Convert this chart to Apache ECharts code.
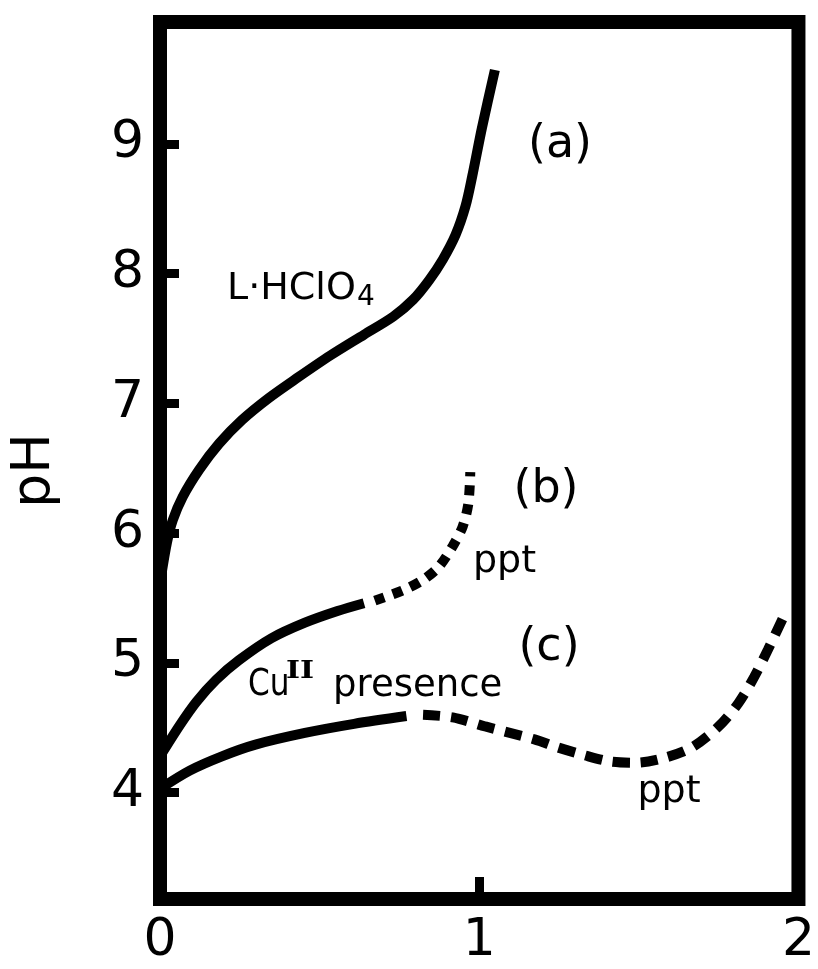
<!DOCTYPE html>
<html>
<head>
<meta charset="utf-8">
<script src="https://cdn.jsdelivr.net/npm/echarts@6/dist/echarts.min.js"></script>
<style>
  html, body { margin: 0; padding: 0; background: #fff; }
  #chart { width: 818px; height: 969px; }
</style>
</head>
<body>
<div id="chart"></div>
<script>
// ---- data ----
const xTickValues = [0, 1, 2];
const yTickValues = [4, 5, 6, 7, 8, 9];

// (a) L·HClO4 titration (solid)
const curveA = [
  [0.003, 5.66], [0.022, 5.93], [0.040, 6.10], [0.071, 6.28], [0.123, 6.49],
  [0.185, 6.69], [0.256, 6.87], [0.340, 7.04], [0.432, 7.20], [0.534, 7.37],
  [0.639, 7.53], [0.731, 7.67], [0.793, 7.80], [0.843, 7.95], [0.886, 8.11],
  [0.926, 8.30], [0.957, 8.52], [0.978, 8.75], [1.009, 9.13], [1.049, 9.57]
];
// (b) solid part
const curveBSolid = [
  [0.000, 4.28], [0.062, 4.52], [0.114, 4.70], [0.176, 4.87], [0.247, 5.02],
  [0.349, 5.19], [0.454, 5.31], [0.556, 5.40], [0.639, 5.46]
];
// (b) dashed part (ppt)
const curveBDashed = [
  [0.673, 5.48], [0.762, 5.56], [0.824, 5.64], [0.873, 5.74], [0.917, 5.90],
  [0.948, 6.05], [0.966, 6.23], [0.972, 6.47]
];
// (c) solid part (Cu(II) presence)
const curveCSolid = [
  [0.000, 4.03], [0.093, 4.17], [0.194, 4.28], [0.299, 4.37], [0.454, 4.46],
  [0.608, 4.53], [0.772, 4.59]
];
// (c) dashed part (ppt)
const curveCDashed = [
  [0.824, 4.60], [0.917, 4.58], [1.019, 4.51], [1.173, 4.41], [1.244, 4.35],
  [1.327, 4.29], [1.410, 4.24], [1.491, 4.23], [1.583, 4.27], [1.667, 4.35],
  [1.750, 4.51], [1.812, 4.69], [1.861, 4.89], [1.904, 5.10], [1.960, 5.39]
];

const FONT = '"DejaVu Sans", "Liberation Sans", sans-serif';
const chart = echarts.init(document.getElementById('chart'), null, { renderer: 'canvas' });

function txt(text, x, y, size, align, extra, fontFamily) {
  return Object.assign({
    type: 'text', x: x, y: y, z: 100,
    style: {
      text: text, x: 0, y: 0, fill: '#000',
      font: size + 'px ' + (fontFamily || FONT),
      align: align, textAlign: align,
      verticalAlign: 'middle', textVerticalAlign: 'middle'
    }
  }, extra || {});
}

const lineBase = { type: 'line', symbol: 'none', smooth: 0.3, clip: true, z: 5 };

chart.setOption({
  backgroundColor: '#fff',
  animation: false,
  grid: {
    left: 160, right: 10, top: 22, bottom: 70,
    show: true, borderWidth: 14, borderColor: '#000', backgroundColor: 'transparent'
  },
  xAxis: {
    type: 'value', min: 0, max: 2, interval: 1,
    axisLine: { show: false },
    splitLine: { show: false },
    axisTick: { show: true, inside: true, length: 22, lineStyle: { color: '#000', width: 9 } },
    axisLabel: { color: '#000', fontSize: 52, fontFamily: FONT, margin: 16 }
  },
  yAxis: {
    type: 'value', min: 3.18, max: 9.94,
    name: 'pH', nameLocation: 'middle', nameGap: 98,
    nameTextStyle: { color: '#000', fontSize: 54, fontFamily: FONT, padding: [0, 20, 0, 0] },
    axisLine: { show: false },
    splitLine: { show: false },
    axisTick: { show: true, inside: true, length: 19, customValues: yTickValues,
                lineStyle: { color: '#000', width: 9 } },
    axisLabel: { color: '#000', fontSize: 52, fontFamily: FONT, margin: 16, customValues: yTickValues }
  },
  series: [
    Object.assign({}, lineBase, { data: curveA, lineStyle: { color: '#000', width: 10 } }),
    Object.assign({}, lineBase, { data: curveBSolid, lineStyle: { color: '#000', width: 10 } }),
    Object.assign({}, lineBase, { data: curveBDashed, lineStyle: { color: '#000', width: 10, type: [10, 9], cap: 'butt' } }),
    Object.assign({}, lineBase, { data: curveCSolid, lineStyle: { color: '#000', width: 10 } }),
    Object.assign({}, lineBase, { data: curveCDashed, lineStyle: { color: '#000', width: 10, type: [17, 11], cap: 'butt' } })
  ],
  graphic: { elements: [
    txt('(a)', 560, 145, 46, 'center'),
    txt('(b)', 546, 490, 46, 'center'),
    txt('(c)', 549, 648, 46, 'center'),
    txt('L·HClO', 227, 289, 38, 'left'),
    txt('4', 366, 298, 28, 'center'),
    txt('ppt', 473, 562, 38, 'left'),
    txt('Cu', 248, 685, 38, 'left', { scaleX: 0.82 }),
    txt('II', 300, 672, 'bold 24', 'center', { scaleX: 1.25 }, '"DejaVu Serif", "Liberation Serif", serif'),
    txt('presence', 333, 686, 37, 'left'),
    txt('ppt', 669, 792, 38, 'center')
  ] }
});
</script>
</body>
</html>
